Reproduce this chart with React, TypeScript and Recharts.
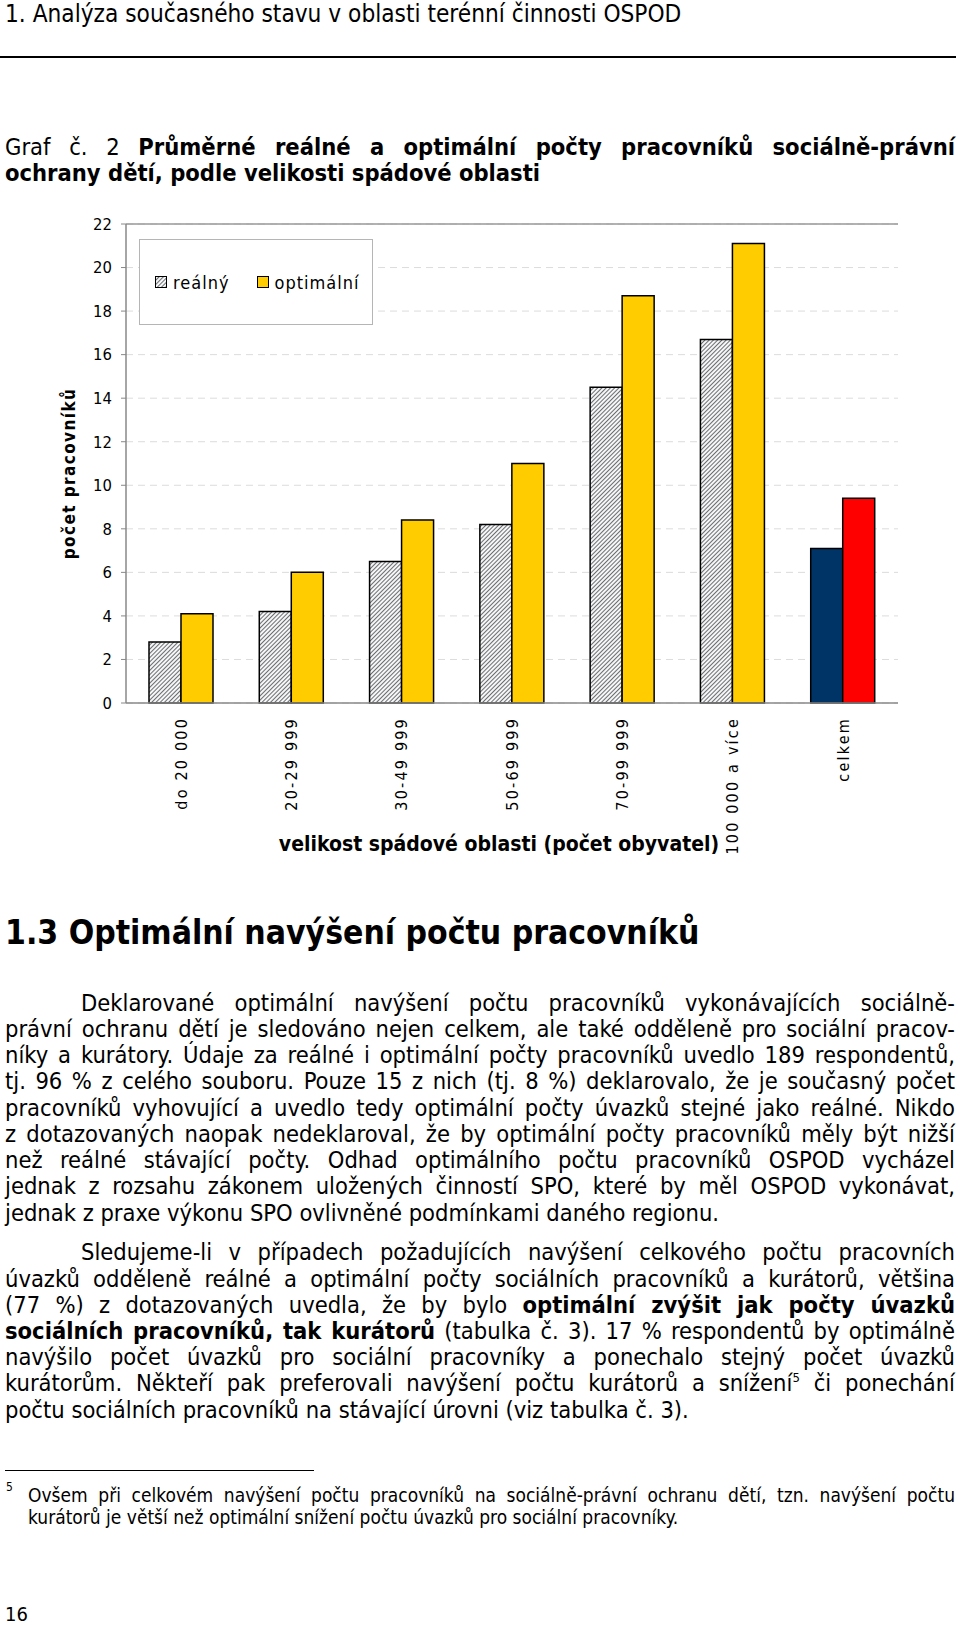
import React from 'react';
import { BarChart, Bar, XAxis, YAxis, CartesianGrid, Legend, Cell, ReferenceLine } from 'recharts';

// hodnoty
const categories = ['do 20 000', '20-29 999', '30-49 999', '50-69 999', '70-99 999', '100 000 a více', 'celkem'];
const realValues = [2.8, 4.2, 6.5, 8.2, 14.5, 16.7, 7.1];
const optimalValues = [4.1, 6.0, 8.4, 11.0, 18.7, 21.1, 9.4];
const seriesNames = ['reálný', 'optimální'];
const yTicks = [0, 2, 4, 6, 8, 10, 12, 14, 16, 18, 20, 22];
const totalCategory = 'celkem';

const data = categories.map((category, i) => ({
  category,
  real: realValues[i],
  optimal: optimalValues[i],
}));
const edgeTicks = [...categories.map((_, i) => i), categories.length];

const YELLOW = '#ffcc00';
const NAVY = '#003366';
const RED = '#ff0000';
const HATCH = 'url(#hatch)';

const chartFont = '"DejaVu Sans", Verdana, sans-serif';
const docFont = '"DejaVu Sans Condensed", "DejaVu Sans", sans-serif';

const para1 = [
  'právní ochranu dětí je sledováno nejen celkem, ale také odděleně pro sociální pracov-',
  'níky a kurátory. Údaje za reálné i optimální počty pracovníků uvedlo 189 respondentů,',
  'tj. 96 % z celého souboru. Pouze 15 z nich (tj. 8 %) deklarovalo, že je současný počet',
  'pracovníků vyhovující a uvedlo tedy optimální počty úvazků stejné jako reálné. Nikdo',
  'z dotazovaných naopak nedeklaroval, že by optimální počty pracovníků měly být nižší',
  'než reálné stávající počty. Odhad optimálního počtu pracovníků OSPOD vycházel',
  'jednak z rozsahu zákonem uložených činností SPO, které by měl OSPOD vykonávat,',
];

const TextLine = ({ center, left = 5, justify = true, size = 23.5, height = 26, children }: any) => (
  <div
    style={{
      position: 'absolute',
      top: center - height / 2,
      left,
      width: 955 - left,
      height,
      lineHeight: `${height}px`,
      fontSize: size,
      whiteSpace: 'nowrap',
      textAlign: justify ? 'justify' : 'left',
      textAlignLast: justify ? 'justify' : 'left',
    } as React.CSSProperties}
  >
    {children}
  </div>
);

const XTick = ({ x, y, payload }: any) => (
  <text
    x={x}
    y={y + 14}
    dy="0.36em"
    transform={`rotate(-90 ${x} ${y + 14})`}
    textAnchor="end"
    fontFamily={chartFont}
    fontSize={16}
    letterSpacing={2.2}
    fill="#000"
  >
    {payload.value}
  </text>
);

const renderLegend = (props: any) => {
  const items = [...(props.payload || [])].sort(
    (a: any, b: any) => seriesNames.indexOf(a.value) - seriesNames.indexOf(b.value)
  );
  return (
    <div
      style={{
        width: 234,
        height: 86,
        boxSizing: 'border-box',
        border: '1px solid #b5b5b5',
        background: '#fff',
        display: 'flex',
        alignItems: 'center',
        paddingLeft: 15,
        fontFamily: chartFont,
        fontSize: 18,
        letterSpacing: 1,
        color: '#000',
      }}
    >
      {items.map((entry: any, i: number) => (
        <span key={i} style={{ display: 'inline-flex', alignItems: 'center', marginRight: i === 0 ? 27 : 0 }}>
          <svg width={12} height={12} style={{ marginRight: 6 }}>
            <rect x={0.5} y={0.5} width={11} height={11} fill={entry.dataKey === 'real' ? HATCH : YELLOW} stroke="#000" />
          </svg>
          {entry.value}
        </span>
      ))}
    </div>
  );
};

const App: React.FC = () => {
  return (
    <div style={{ position: 'absolute', top: 0, left: 0, width: 960, height: 1625, background: '#fff', fontFamily: docFont, fontStretch: 'condensed', color: '#000' }}>
      <TextLine center={13.5} size={24.2} justify={false}>1. Analýza současného stavu v oblasti terénní činnosti OSPOD</TextLine>
      <div style={{ position: 'absolute', top: 56, left: 0, width: 956, height: 2, background: '#000' }} />

      <TextLine center={147}>
        Graf č. 2 <b>Průměrné reálné a optimální počty pracovníků sociálně-právní</b>
      </TextLine>
      <TextLine center={173} justify={false}>
        <b>ochrany dětí, podle velikosti spádové oblasti</b>
      </TextLine>

      <div style={{ position: 'absolute', top: 200, left: 0, width: 960, height: 680 }}>
        <BarChart width={960} height={680} data={data} margin={{ top: 24, right: 62, bottom: 17, left: 66 }} barSize={32} barGap={0}>
          <defs>
            <pattern id="hatch" patternUnits="userSpaceOnUse" width={3} height={3} patternTransform="rotate(45)">
              <rect width={3} height={3} fill="#f4f6f8" />
              <line x1={0} y1={0} x2={0} y2={3} stroke="#222" strokeWidth={1.3} />
            </pattern>
          </defs>
          <CartesianGrid vertical={false} strokeDasharray="7 5" stroke="#dcdcdc" />
          <XAxis
            xAxisId="edges"
            type="number"
            domain={[0, categories.length]}
            ticks={edgeTicks}
            tick={false}
            axisLine={false}
            tickLine={{ stroke: '#888' }}
            tickSize={5}
            height={0}
          />
          <XAxis
            dataKey="category"
            interval={0}
            height={160}
            tick={<XTick />}
            tickLine={false}
            tickSize={0}
            tickMargin={0}
            axisLine={{ stroke: '#888', strokeWidth: 1.5 }}
            label={({ viewBox }: any) => (
              <text
                x={viewBox.x + viewBox.width / 2 - 13}
                y={viewBox.y + 148}
                textAnchor="middle"
                fontFamily={docFont}
                fontStretch="condensed"
                fontSize={21}
                fontWeight="bold"
                fill="#000"
              >
                velikost spádové oblasti (počet obyvatel)
              </text>
            )}
          />
          <YAxis
            domain={[0, 22]}
            ticks={yTicks}
            width={60}
            tickSize={5}
            tickMargin={9}
            tickLine={{ stroke: '#888' }}
            axisLine={{ stroke: '#888', strokeWidth: 1.5 }}
            tick={{ fontFamily: chartFont, fontSize: 16.5, fill: '#000' }}
            label={({ viewBox }: any) => {
              const cx = viewBox.x + 3;
              const cy = viewBox.y + viewBox.height / 2 + 10;
              return (
                <text
                  x={cx}
                  y={cy}
                  transform={`rotate(-90 ${cx} ${cy})`}
                  textAnchor="middle"
                  dy="0.36em"
                  fontFamily={chartFont}
                  fontSize={17}
                  fontWeight="bold"
                  letterSpacing={1.4}
                  fill="#000"
                >
                  počet pracovníků
                </text>
              );
            }}
          />
          <YAxis
            yAxisId="border"
            orientation="right"
            domain={[0, 22]}
            width={0}
            tick={false}
            tickLine={false}
            axisLine={{ stroke: '#999', strokeWidth: 1.5 }}
          />
          <ReferenceLine y={22} stroke="#999" strokeWidth={1.5} />
          <Legend
            layout="horizontal"
            verticalAlign="middle"
            align="center"
            wrapperStyle={{ top: 39, left: 139, width: 234, height: 86 }}
            content={renderLegend}
          />
          <Bar dataKey="real" name={seriesNames[0]} fill={HATCH} stroke="#000" strokeWidth={1.5} isAnimationActive={false}>
            {data.map((d, i) => (
              <Cell key={`real-${i}`} fill={d.category === totalCategory ? NAVY : HATCH} />
            ))}
          </Bar>
          <Bar dataKey="optimal" name={seriesNames[1]} fill={YELLOW} stroke="#000" strokeWidth={1.5} isAnimationActive={false}>
            {data.map((d, i) => (
              <Cell key={`opt-${i}`} fill={d.category === totalCategory ? RED : YELLOW} />
            ))}
          </Bar>
        </BarChart>
      </div>

      <div style={{ position: 'absolute', top: 912, left: 5, height: 42, lineHeight: '42px', fontSize: 33.4, fontWeight: 'bold' }}>
        1.3 Optimální navýšení počtu pracovníků
      </div>

      <TextLine center={1003} left={81}>Deklarované optimální navýšení počtu pracovníků vykonávajících sociálně-</TextLine>
      {para1.map((line, i) => (
        <TextLine key={i} center={1029 + i * 26.2}>{line}</TextLine>
      ))}
      <TextLine center={1213} justify={false}>jednak z praxe výkonu SPO ovlivněné podmínkami daného regionu.</TextLine>

      <TextLine center={1252} left={81}>Sledujeme-li v případech požadujících navýšení celkového počtu pracovních</TextLine>
      <TextLine center={1279}>úvazků odděleně reálné a optimální počty sociálních pracovníků a kurátorů, většina</TextLine>
      <TextLine center={1305}>
        (77 %) z dotazovaných uvedla, že by bylo <b>optimální zvýšit jak počty úvazků</b>
      </TextLine>
      <TextLine center={1331}>
        <b>sociálních pracovníků, tak kurátorů</b> (tabulka č. 3). 17 % respondentů by optimálně
      </TextLine>
      <TextLine center={1357}>navýšilo počet úvazků pro sociální pracovníky a ponechalo stejný počet úvazků</TextLine>
      <TextLine center={1383}>
        kurátorům. Někteří pak preferovali navýšení počtu kurátorů a snížení<sup style={{ fontSize: 13, lineHeight: 0 }}>5</sup> či ponechání
      </TextLine>
      <TextLine center={1410} justify={false}>počtu sociálních pracovníků na stávající úrovni (viz tabulka č. 3).</TextLine>

      <div style={{ position: 'absolute', top: 1470, left: 5, width: 309, height: 1, background: '#000' }} />
      <div style={{ position: 'absolute', top: 1481, left: 6, fontSize: 12, lineHeight: '12px' }}>5</div>
      <TextLine center={1495} left={28} size={19} height={22}>
        Ovšem při celkovém navýšení počtu pracovníků na sociálně-právní ochranu dětí, tzn. navýšení počtu
      </TextLine>
      <TextLine center={1517} left={28} size={19} height={22} justify={false}>
        kurátorů je větší než optimální snížení počtu úvazků pro sociální pracovníky.
      </TextLine>

      <TextLine center={1614} size={20} height={22} justify={false}>16</TextLine>
    </div>
  );
};

export default App;
